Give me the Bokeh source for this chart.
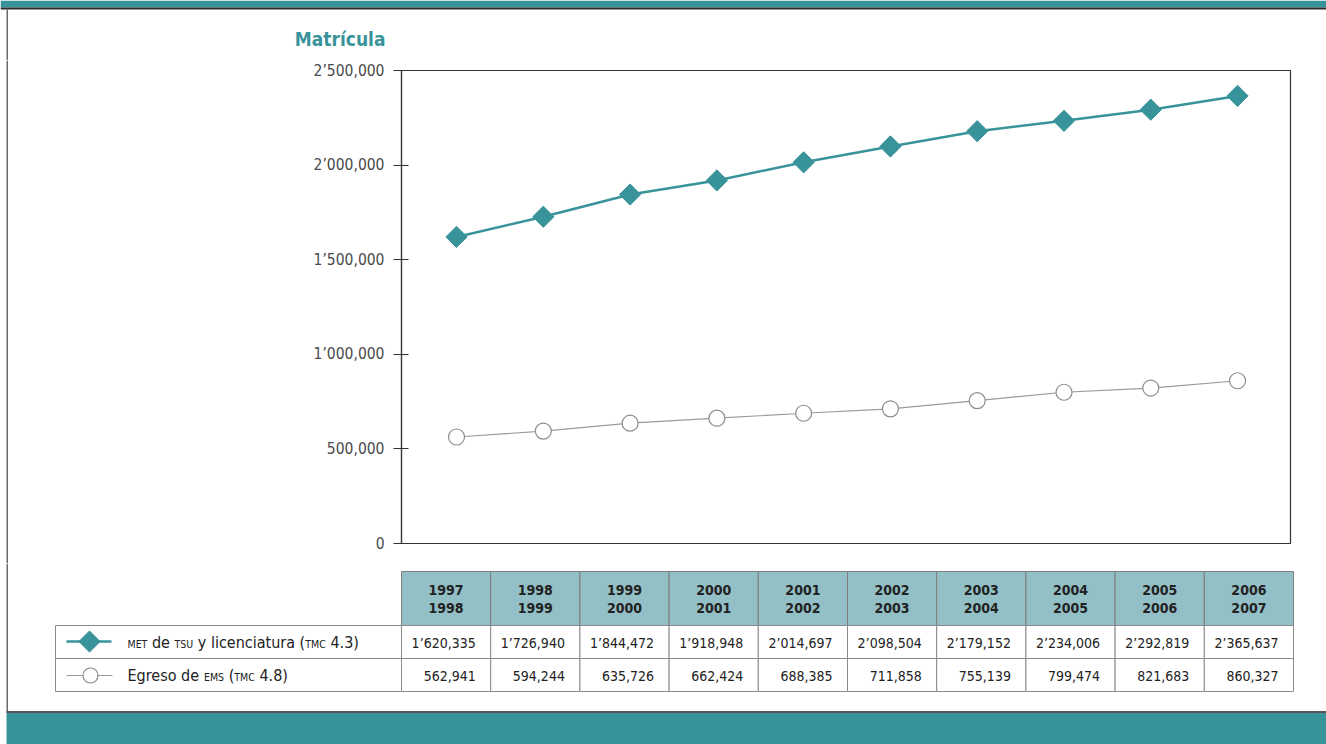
import math
from bokeh.plotting import figure
from bokeh.models import Range1d, FixedTicker, CustomJSTickFormatter
from bokeh.layouts import column, row
from bokeh.embed import file_html
from bokeh.resources import INLINE
from bokeh.core.properties import value

# ---------------- data ----------------
period_start = ["1997", "1998", "1999", "2000", "2001", "2002", "2003", "2004", "2005", "2006"]
period_end = ["1998", "1999", "2000", "2001", "2002", "2003", "2004", "2005", "2006", "2007"]
met_tsu_lic = [1620335, 1726940, 1844472, 1918948, 2014697, 2098504, 2179152, 2234006, 2292819, 2365637]
egreso_ems = [562941, 594244, 635726, 662424, 688385, 711858, 755139, 799474, 821683, 860327]
y_ticks = [0, 500000, 1000000, 1500000, 2000000, 2500000]
title_text = "Matrícula"
# (text, small caps?)
label_met = [("MET", True), (" de ", False), ("TSU", True), (" y licenciatura (", False), ("TMC", True), (" 4.3)", False)]
label_ems = [("Egreso de ", False), ("EMS", True), (" (", False), ("TMC", True), (" 4.8)", False)]

# ---------------- styles ----------------
FONT = "'DejaVu Sans Condensed', 'DejaVu Sans', sans-serif"
TEAL = "#39939a"
HEAD_FILL = "#93bfc6"
GRAY_LINE = "#9a9a9a"
DARK = "#333333"
BORDER = "#6a6a6a"

# approximate advance widths (em) of DejaVu Sans, used to chain the mixed-size legend texts
CW = {' ': .318, 'd': .635, 'e': .615, 'y': .592, 'l': .278, 'i': .278, 'c': .550, 'n': .634,
      'a': .613, 't': .392, 'u': .634, 'r': .411, '(': .390, ')': .390, '.': .318, 'E': .632,
      'g': .635, 's': .521, 'o': .612, 'M': .863, 'T': .611, 'S': .635, 'U': .732, 'C': .698}


def text_w(s, size):
    return sum(CW.get(ch, .636) for ch in s) * 0.9 * size


def fmt(v):
    m, rest = divmod(int(v), 1000000)
    t, u = divmod(rest, 1000)
    if m:
        return f"{m}\u2019{t:03d},{u:03d}"
    if t:
        return f"{t},{u:03d}"
    return str(u)


def blank(p):
    p.grid.visible = False
    p.outline_line_color = None
    p.background_fill_color = "white"
    p.border_fill_color = "white"
    p.frame_align = False
    return p


def plain(width, height, xr, yr):
    return blank(figure(width=width, height=height, x_range=Range1d(*xr), y_range=Range1d(*yr),
                        output_backend="svg", toolbar_location=None, x_axis_location=None,
                        y_axis_location=None, min_border=0))


idx = list(range(len(period_start)))
W, H = 1326, 744
TOP_H = 60          # header strip + title
CHART_BOT = 563     # end of chart block

# ---------------- header strip with title ----------------
pT = plain(W, TOP_H, (0, W), (TOP_H, 0))
pT.quad(left=0, right=W, top=0, bottom=7, fill_color=TEAL, line_color=None)
pT.quad(left=0, right=W, top=7, bottom=9, fill_color="#2b2b2b", line_color=None)
pT.quad(left=6, right=7.5, top=9, bottom=TOP_H, fill_color=BORDER, line_color=None)
pT.text(x=[385], y=[38], text=[title_text], text_align="right", text_baseline="middle",
        text_font=value(FONT), text_font_size="19px", text_font_style="bold", text_color=TEAL)

# ---------------- left border strip ----------------
pS = plain(10, CHART_BOT - TOP_H, (0, 10), (CHART_BOT, TOP_H))
pS.quad(left=6, right=7.5, top=TOP_H, bottom=CHART_BOT, fill_color=BORDER, line_color=None)

# ---------------- chart ----------------
pA = blank(figure(width=W - 10, height=CHART_BOT - TOP_H, x_range=Range1d(-0.634, 9.61),
                  y_range=Range1d(0, 2500000), output_backend="svg", toolbar_location=None,
                  x_axis_location=None, min_border_left=391, min_border_right=36,
                  min_border_top=70 - TOP_H, min_border_bottom=CHART_BOT - 543))
pA.outline_line_color = DARK
pA.outline_line_width = 1.2

ax = pA.yaxis[0]
ax.ticker = FixedTicker(ticks=y_ticks)
ax.formatter = CustomJSTickFormatter(code="""
const v = Math.round(tick);
const p3 = (n) => String(n).padStart(3, "0");
const m = Math.floor(v / 1000000), t = Math.floor((v % 1000000) / 1000), u = v % 1000;
if (m > 0) return m + "\u2019" + p3(t) + "," + p3(u);
if (t > 0) return t + "," + p3(u);
return String(u);
""")
ax.major_tick_in = 7
ax.major_tick_out = 8
ax.minor_tick_line_color = None
ax.axis_line_color = DARK
ax.axis_line_width = 1.2
ax.major_tick_line_color = DARK
ax.major_tick_line_width = 1.2
ax.major_label_text_font = FONT
ax.major_label_text_font_size = "15.5px"
ax.major_label_text_color = "#4a4a4a"
ax.major_label_standoff = 9

pA.line(x=idx, y=met_tsu_lic, line_color=TEAL, line_width=2.5)
pA.scatter(x=idx, y=met_tsu_lic, marker="square", angle=math.pi / 4, size=15,
           fill_color=TEAL, line_color=TEAL)
pA.line(x=idx, y=egreso_ems, line_color=GRAY_LINE, line_width=1.2)
pA.scatter(x=idx, y=egreso_ems, marker="circle", size=16, fill_color="white",
           line_color="#8c8c8c", line_width=1.2)

# ---------------- table + footer ----------------
pB = plain(W, H - CHART_BOT, (0, W), (H, CHART_BOT))

COL0, COLW = 401, 89.2
lefts = [COL0 + COLW * i for i in idx]
rights = [l + COLW for l in lefts]
centers = [l + COLW / 2 for l in lefts]
H_TOP, H_BOT, R1_BOT, R2_BOT = 571, 625, 658, 691
LEG_L = 55

pB.quad(left=6, right=7.5, top=CHART_BOT, bottom=712, fill_color=BORDER, line_color=None)
pB.quad(left=lefts, right=rights, top=H_TOP, bottom=H_BOT, fill_color=HEAD_FILL,
        line_color="#7d7d7d", line_width=1)
for top, bot in [(H_BOT, R1_BOT), (R1_BOT, R2_BOT)]:
    pB.quad(left=lefts, right=rights, top=top, bottom=bot, fill_color="white",
            line_color="#8a8a8a", line_width=1)
    pB.quad(left=LEG_L, right=COL0, top=top, bottom=bot, fill_color="white",
            line_color="#8a8a8a", line_width=1)

pB.text(x=centers, y=[589] * len(idx), text=period_start, text_align="center", text_baseline="middle",
        text_font=value(FONT), text_font_size="14px", text_font_style="bold", text_color="#222222")
pB.text(x=centers, y=[607] * len(idx), text=period_end, text_align="center", text_baseline="middle",
        text_font=value(FONT), text_font_size="14px", text_font_style="bold", text_color="#222222")
pB.text(x=[r - 15 for r in rights], y=[642] * len(idx), text=[fmt(v) for v in met_tsu_lic],
        text_align="right", text_baseline="middle", text_font=value(FONT), text_font_size="14px",
        text_color="#222222")
pB.text(x=[r - 15 for r in rights], y=[675] * len(idx), text=[fmt(v) for v in egreso_ems],
        text_align="right", text_baseline="middle", text_font=value(FONT), text_font_size="14px",
        text_color="#222222")

# legend samples
pB.line(x=[66, 111], y=[641, 641], line_color=TEAL, line_width=2.5)
pB.scatter(x=[89], y=[641], marker="square", angle=math.pi / 4, size=15, fill_color=TEAL, line_color=TEAL)
pB.line(x=[66, 112], y=[675, 675], line_color=GRAY_LINE, line_width=1.2)
pB.scatter(x=[90], y=[675], marker="circle", size=15, fill_color="white", line_color="#8c8c8c",
           line_width=1.2)

# legend labels with small caps parts
for parts, y in [(label_met, 642), (label_ems, 675)]:
    x = 127
    for txt, small in parts:
        size = 10.5 if small else 16
        lead = len(txt) - len(txt.lstrip(" "))
        x_txt = x + text_w(" " * lead, size)
        pB.text(x=[x_txt], y=[y + (1 if small else 0)], text=[txt.strip()], text_align="left",
                text_baseline="middle", text_font=value(FONT), text_font_size=f"{size}px",
                text_color="#222222")
        x += text_w(txt, size)

# footer bar
pB.quad(left=6, right=W, top=710.5, bottom=712.5, fill_color="#555555", line_color=None)
pB.quad(left=6, right=W, top=712.5, bottom=H, fill_color=TEAL, line_color=None)

layout = column(pT, row(pS, pA, spacing=0), pB, spacing=0)
open("out.html", "w").write(file_html(layout, INLINE))
